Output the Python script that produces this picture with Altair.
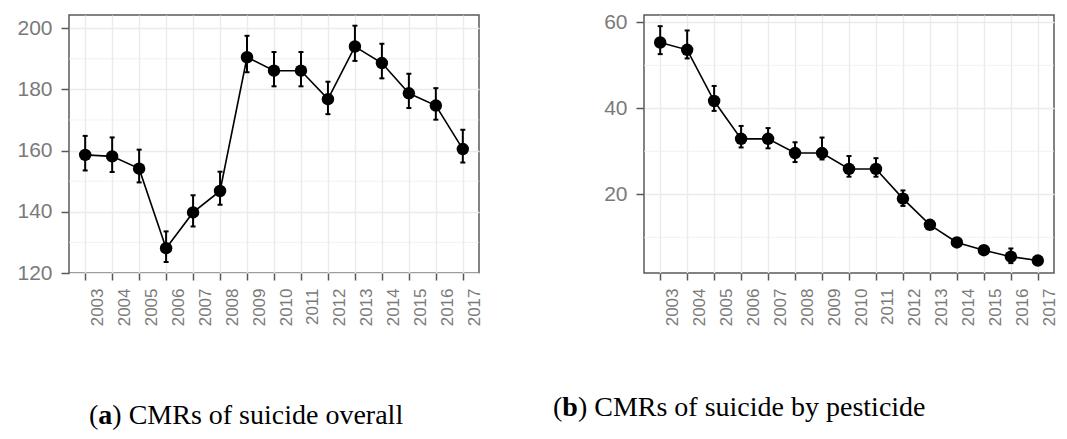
import altair as alt
import pandas as pd

years = list(range(2003, 2018))

overall = [158.6, 158.1, 154.1, 128.1, 139.8, 146.8, 190.5, 186.1, 186.1, 176.8, 194.0, 188.6, 178.7, 174.7, 160.5]
overall_lo = [153.5, 153.0, 149.6, 123.6, 135.2, 142.3, 185.6, 181.0, 181.0, 171.9, 189.3, 183.6, 173.9, 170.1, 156.1]
overall_hi = [164.8, 164.3, 160.3, 133.6, 145.4, 153.1, 197.5, 192.2, 192.2, 182.5, 200.8, 194.9, 185.1, 180.4, 166.8]

pest = [55.3, 53.6, 41.7, 32.9, 32.9, 29.6, 29.6, 25.9, 25.9, 19.0, 12.9, 8.8, 7.0, 5.5, 4.6]
pest_lo = [52.6, 51.6, 39.4, 30.9, 30.7, 27.5, 28.1, 24.1, 24.1, 17.3, 12.2, 8.3, 6.5, 4.0, 4.1]
pest_hi = [59.1, 58.1, 45.2, 35.9, 35.4, 32.1, 33.2, 28.9, 28.4, 20.9, 13.7, 9.3, 7.5, 7.4, 5.1]

left_major = [120, 140, 160, 180, 200]
left_minor = [130, 150, 170, 190]
right_major = [20, 40, 60]
right_minor = [10, 30, 50]

cap_a = ["(", "a", ") CMRs of suicide overall"]
cap_b = ["(", "b", ") CMRs of suicide by pesticide"]

SERIF = "Liberation Serif"
CAP_SIZE = 28


def panel(vals, lo, hi, domain, major, minor, width, cap, cap_x, cap_y):
    df = pd.DataFrame({"year": years, "v": vals, "lo": lo, "hi": hi})
    yscale = alt.Scale(domain=domain, nice=False, zero=False)
    x = alt.X("year:O", scale=alt.Scale(type="point", padding=0.6), title=None)

    def Y(field):
        return alt.Y(field, scale=yscale, title=None, axis=alt.Axis(values=major))

    minor_grid = alt.Chart(pd.DataFrame({"m": minor})).mark_rule(
        color="#EDEDED", strokeWidth=0.8
    ).encode(y=Y("m:Q"))

    base = alt.Chart(df).encode(x=x)
    err = base.mark_rule(color="black", strokeWidth=2).encode(y=Y("lo:Q"), y2="hi:Q")
    cap_lo = base.mark_tick(color="black", size=5, thickness=2, opacity=1).encode(y=Y("lo:Q"))
    cap_hi = base.mark_tick(color="black", size=5, thickness=2, opacity=1).encode(y=Y("hi:Q"))
    line = base.mark_line(color="black", strokeWidth=1.6).encode(y=Y("v:Q"))
    pts = base.mark_circle(color="black", size=155, opacity=1).encode(y=Y("v:Q"))

    # caption pieces: "(", bold letter, rest
    w_paren = 0.333 * CAP_SIZE
    w_bold = (0.5 if cap[1] == "a" else 0.556) * CAP_SIZE
    xs = [cap_x, cap_x + w_paren, cap_x + w_paren + w_bold]
    weights = ["normal", "bold", "normal"]
    texts = []
    for t, xx, wgt in zip(cap, xs, weights):
        texts.append(
            alt.Chart(pd.DataFrame({"t": [t]})).mark_text(
                font=SERIF, fontSize=CAP_SIZE, fontWeight=wgt, align="left",
                baseline="alphabetic", color="black"
            ).encode(x=alt.value(xx), y=alt.value(cap_y), text="t:N")
        )

    return alt.layer(minor_grid, err, cap_lo, cap_hi, line, pts, *texts).properties(
        width=width, height=258
    )


left = panel(overall, overall_lo, overall_hi, [120, 204.3], left_major, left_minor,
             410, cap_a, 20, 409)
right = panel(pest, pest_lo, pest_hi, [1.7, 61.7], right_major, right_minor,
              410, cap_b, -91, 401)

chart = alt.hconcat(left, right, spacing=68).properties(
    padding={"left": 8, "top": 2, "right": 0, "bottom": 0}
).configure_view(
    stroke="#595959", strokeWidth=1.5
).configure_axis(
    domain=False,
    grid=True,
    gridColor="#EBEBEB",
    gridWidth=1.4,
    tickColor="#595959",
    tickWidth=1.5,
    labelColor="#7a7a7a",
    labelFont="Liberation Sans",
).configure_axisX(
    labelAngle=270,
    labelAlign="right",
    labelBaseline="middle",
    labelOffset=12,
    labelPadding=8,
    labelFontSize=17,
    tickSize=7,
).configure_axisY(
    labelFontSize=21,
    labelPadding=9,
    tickSize=8,
)

chart.save("out.html", embed_options={"renderer": "svg", "actions": False})
